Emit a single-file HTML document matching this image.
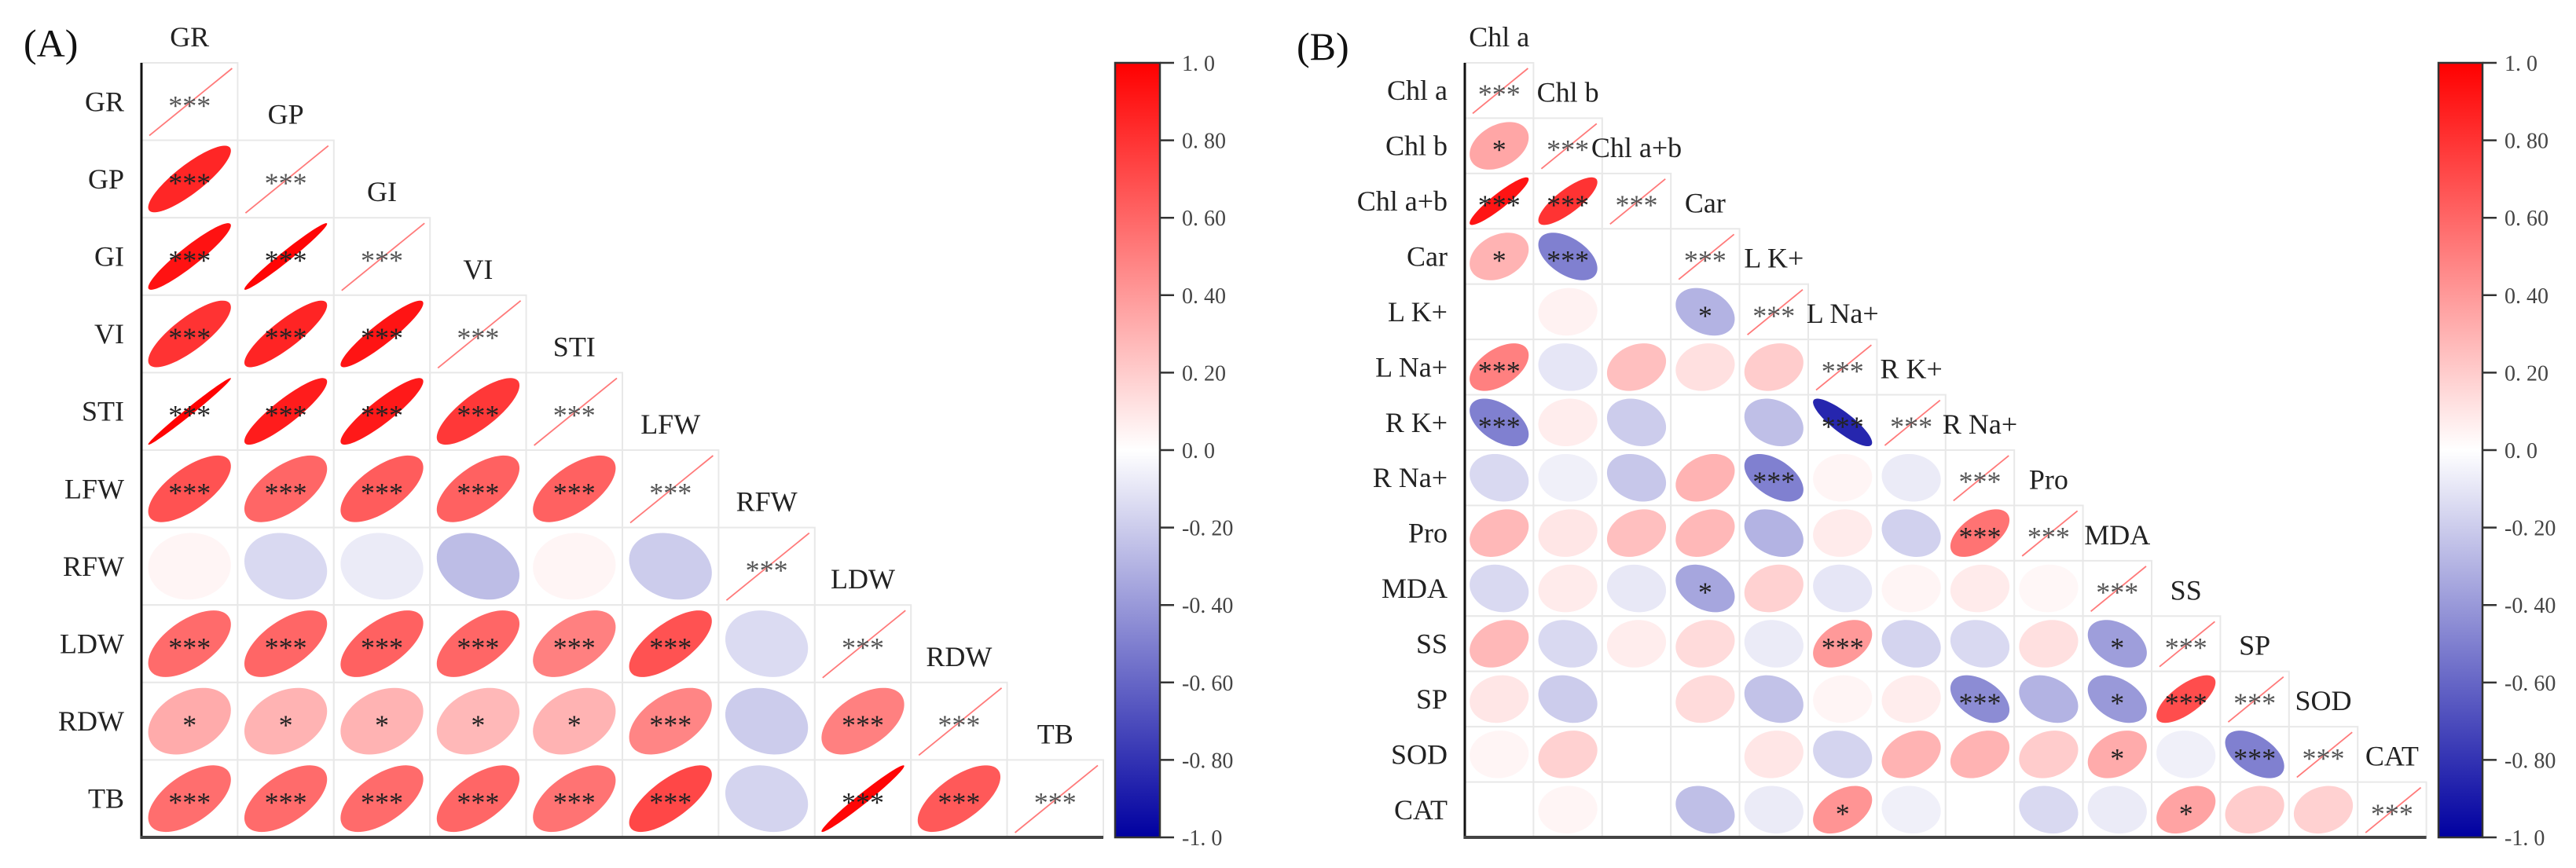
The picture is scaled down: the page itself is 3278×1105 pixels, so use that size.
<!DOCTYPE html>
<html><head><meta charset="utf-8"><style>
html,body{margin:0;padding:0;background:#fff;}
svg{display:block;}
text{font-family:"Liberation Serif",serif;}
</style></head><body>
<svg id="chart" width="3278" height="1105" viewBox="0 0 3278 1105" xmlns="http://www.w3.org/2000/svg">
<defs>
<linearGradient id="cbgrad" x1="0" y1="0" x2="0" y2="1">
<stop offset="0" stop-color="#ff0000"/><stop offset="0.5" stop-color="#ffffff"/><stop offset="1" stop-color="#0000a0"/>
</linearGradient>
</defs>
<g id="panelA"></g>
<g id="panelB"></g>
</svg>
<script>
const labelsA = ["GR","GP","GI","VI","STI","LFW","RFW","LDW","RDW","TB"];
const corrA = [
[1],
[0.85,1],
[0.93,0.98,1],
[0.80,0.86,0.92,1],
[0.99,0.89,0.90,0.78,1],
[0.68,0.60,0.64,0.62,0.62,1],
[0.04,-0.15,-0.08,-0.26,0.04,-0.20,1],
[0.58,0.60,0.62,0.60,0.50,0.68,-0.14,1],
[0.33,0.30,0.30,0.28,0.30,0.48,-0.20,0.50,1],
[0.57,0.58,0.58,0.60,0.55,0.72,-0.17,0.98,0.65,1]
];
const sigA = [
["***"],
["***","***"],
["***","***","***"],
["***","***","***","***"],
["***","***","***","***","***"],
["***","***","***","***","***","***"],
["","","","","","","***"],
["***","***","***","***","***","***","","***"],
["*","*","*","*","*","***","","***","***"],
["***","***","***","***","***","***","","***","***","***"]
];
const labelsB = ["Chl a","Chl b","Chl a+b","Car","L K+","L Na+","R K+","R Na+","Pro","MDA","SS","SP","SOD","CAT"];
const corrB = [
[1],
[0.35,1],
[0.92,0.80,1],
[0.30,-0.50,0,1],
[0,0.05,0,-0.30,1],
[0.50,-0.10,0.25,0.12,0.20,1],
[-0.50,0.07,-0.20,0,-0.25,-0.85,1],
[-0.15,-0.06,-0.22,0.30,-0.50,0.04,-0.08,1],
[0.28,0.10,0.25,0.28,-0.30,0.08,-0.18,0.55,1],
[-0.15,0.08,-0.09,-0.35,0.18,-0.10,0.04,0.08,0.03,1],
[0.28,-0.15,0.07,0.14,-0.08,0.40,-0.17,-0.15,0.12,-0.38,1],
[0.10,-0.20,0,0.14,-0.24,0.04,0.07,-0.45,-0.30,-0.40,0.70,1],
[0.04,0.18,0,0,0.10,-0.17,0.30,0.30,0.20,0.33,-0.06,-0.50,1],
[0,0.04,0,-0.25,-0.08,0.42,-0.06,0,-0.15,-0.08,0.36,0.20,0.18,1]
];
const sigB = [
["***"],
["*","***"],
["***","***","***"],
["*","***","","***"],
["","","","*","***"],
["***","","","","","***"],
["***","","","","","***","***"],
["","","","","***","","","***"],
["","","","","","","","***","***"],
["","","","*","","","","","","***"],
["","","","","","***","","","","*","***"],
["","","","","","","","***","","*","***","***"],
["","","","","","","","","","*","","***","***"],
["","","","","","*","","","","","*","","","***"]
];
const cbTicks = [1.0,0.8,0.6,0.4,0.2,0,-0.2,-0.4,-0.6,-0.8,-1.0];
const cbTickLabels = ["1. 0","0. 80","0. 60","0. 40","0. 20","0. 0","-0. 20","-0. 40","-0. 60","-0. 80","-1. 0"];

const NS = "http://www.w3.org/2000/svg";
function mk(tag, attrs, parent){
  const e = document.createElementNS(NS, tag);
  for (const k in attrs) e.setAttribute(k, attrs[k]);
  parent.appendChild(e);
  return e;
}
function color(r){
  if (r >= 0){
    const g = Math.round(255*(1-r));
    return `rgb(255,${g},${g})`;
  } else {
    const a = -r;
    const c = Math.round(255*(1-a));
    const b = Math.round(255 - a*(255-160));
    return `rgb(${c},${c},${b})`;
  }
}
function drawPanel(g, cfg){
  const {labels, corr, sig, x0, y0, cw, ch, panelLabel, plx, ply, cbx, cbw, rowLabelX} = cfg;
  const n = labels.length;
  const xs = j => x0 + j*cw;
  const ys = i => y0 + i*ch;
  const bottom = y0 + n*ch;
  let t = mk("text", {x: plx, y: ply, "font-size": 50, fill: "#111"}, g);
  t.textContent = panelLabel;
  
  
  for (let i = 0; i < n; i++){
    for (let j = 0; j <= i; j++){
      const x = xs(j), y = ys(i);
      const cell = mk("g", {}, g);
      
      
      mk("rect", {x: x, y: y, width: cw, height: ch, fill: "#fff", stroke: "#e8e8e8", "stroke-width": 2}, cell);
      const r = corr[i][j];
      const cx = x + cw/2, cy = y + ch/2;
      if (i === j){
        const ln = mk("line", {x1: x+10, y1: y+ch-6, x2: x+cw-7, y2: y+7, stroke: "#ff7a7a", "stroke-width": 1.8}, cell);
        
        
      } else {
        const d = Math.acos(Math.max(-0.999, Math.min(0.999, r)));
        let p = "";
        for (let k = 0; k <= 80; k++){
          const th = k/80*2*Math.PI;
          const px = cx + 0.43*cw*Math.cos(th + d/2);
          const py = cy - 0.43*ch*Math.cos(th - d/2);
          p += (k ? "L" : "M") + px.toFixed(2) + "," + py.toFixed(2);
        }
        const el = mk("path", {d: p + "Z", fill: color(r)}, cell);
        
        
      }
      const s = sig[i][j];
      if (s){
        const st = mk("text", {x: cx, y: cy + 17, "font-size": 36, "text-anchor": "middle", fill: i===j ? "#555" : "#222"}, cell);
        st.textContent = s;
        
        
      }
    }
    const rl = mk("text", {x: rowLabelX, y: ys(i) + ch/2 + 12, "font-size": 36, "text-anchor": "end", fill: "#222"}, g);
    rl.textContent = labels[i];
    
    
    const cl = mk("text", {x: xs(i) + cw/2, y: ys(i) - 21, "font-size": 36, "text-anchor": "middle", fill: "#222"}, g);
    cl.textContent = labels[i];
    
    
  }
  const ax = mk("line", {x1: x0, y1: y0, x2: x0, y2: bottom+2, stroke: "#111", "stroke-width": 3}, g);
  
  
  const bx = mk("line", {x1: x0-1, y1: bottom, x2: x0 + n*cw, y2: bottom, stroke: "#444", "stroke-width": 4}, g);
  
  
  // colorbar
  const cb = mk("g", {}, g);
  
  
  const cbTop = y0, cbBot = bottom;
  mk("rect", {x: cbx, y: cbTop, width: cbw, height: cbBot-cbTop, fill: "url(#cbgrad)", stroke: "#333", "stroke-width": 2.5}, cb);
  const cy2 = v => cbTop + (1 - v)/2*(cbBot - cbTop);
  cbTicks.forEach((v, k) => {
    mk("line", {x1: cbx+cbw, y1: cy2(v), x2: cbx+cbw+18, y2: cy2(v), stroke: "#333", "stroke-width": 2.5}, cb);
    const tl = mk("text", {x: cbx+cbw+28, y: cy2(v) + 10, "font-size": 28, fill: "#444"}, cb);
    tl.textContent = cbTickLabels[k];
    
    
  });
}
drawPanel(document.getElementById("panelA"), {labels: labelsA, corr: corrA, sig: sigA, x0: 180, y0: 80, cw: 122.4, ch: 98.6, panelLabel: "(A)", plx: 30, ply: 72, cbx: 1419, cbw: 57, rowLabelX: 158});
drawPanel(document.getElementById("panelB"), {labels: labelsB, corr: corrB, sig: sigB, x0: 1864, y0: 80, cw: 87.4, ch: 70.43, panelLabel: "(B)", plx: 1650, ply: 76, cbx: 3103, cbw: 56, rowLabelX: 1842});
</script>
</body></html>
